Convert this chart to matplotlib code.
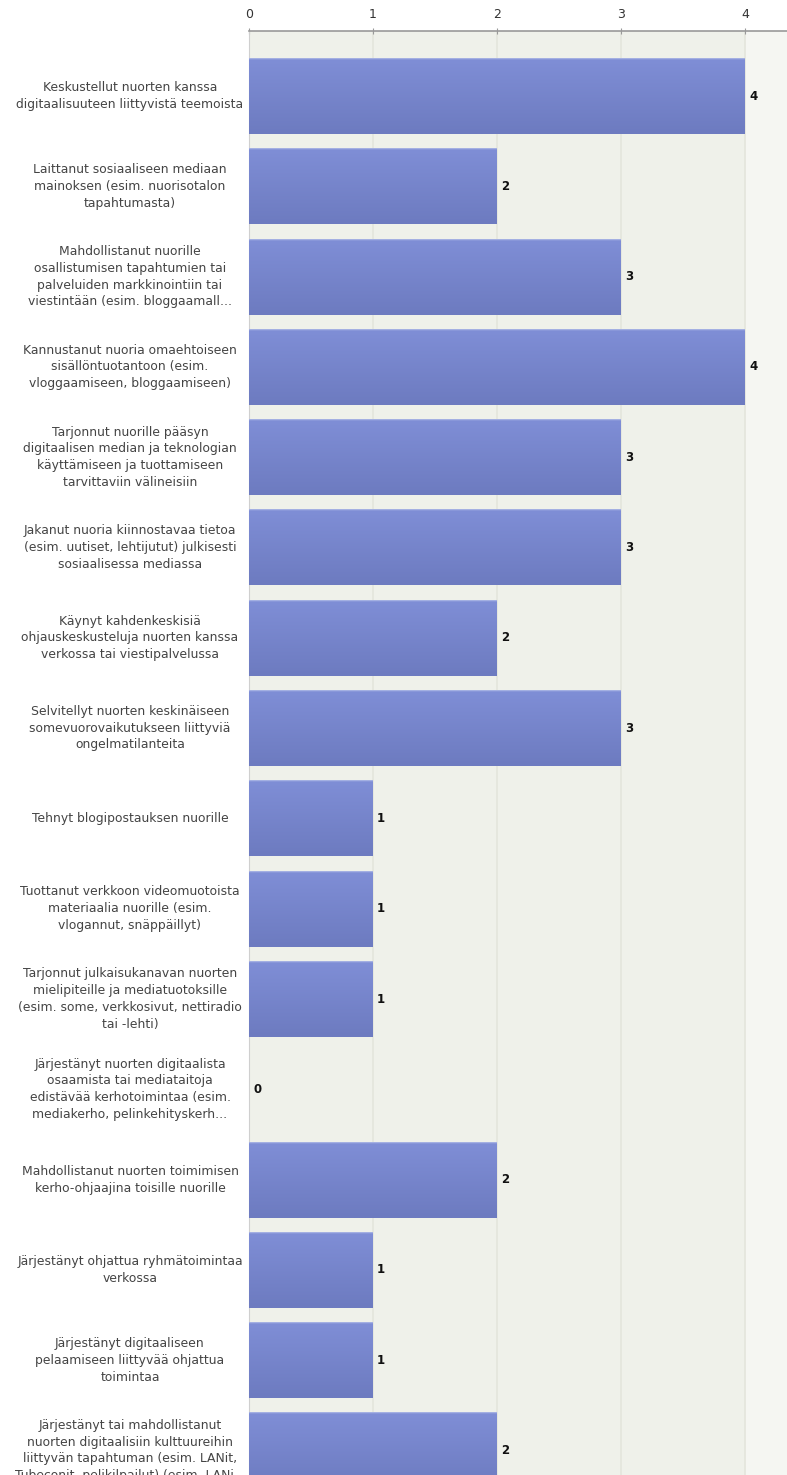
import matplotlib.pyplot as plt
import matplotlib.transforms as mtransforms
from matplotlib.colors import LinearSegmentedColormap
import numpy as np

# survey answers, top to bottom
labels = [
    "Keskustellut nuorten kanssa\ndigitaalisuuteen liittyvistä teemoista",
    "Laittanut sosiaaliseen mediaan\nmainoksen (esim. nuorisotalon\ntapahtumasta)",
    "Mahdollistanut nuorille\nosallistumisen tapahtumien tai\npalveluiden markkinointiin tai\nviestintään (esim. bloggaamall...",
    "Kannustanut nuoria omaehtoiseen\nsisällöntuotantoon (esim.\nvloggaamiseen, bloggaamiseen)",
    "Tarjonnut nuorille pääsyn\ndigitaalisen median ja teknologian\nkäyttämiseen ja tuottamiseen\ntarvittaviin välineisiin",
    "Jakanut nuoria kiinnostavaa tietoa\n(esim. uutiset, lehtijutut) julkisesti\nsosiaalisessa mediassa",
    "Käynyt kahdenkeskisiä\nohjauskeskusteluja nuorten kanssa\nverkossa tai viestipalvelussa",
    "Selvitellyt nuorten keskinäiseen\nsomevuorovaikutukseen liittyviä\nongelmatilanteita",
    "Tehnyt blogipostauksen nuorille",
    "Tuottanut verkkoon videomuotoista\nmateriaalia nuorille (esim.\nvlogannut, snäppäillyt)",
    "Tarjonnut julkaisukanavan nuorten\nmielipiteille ja mediatuotoksille\n(esim. some, verkkosivut, nettiradio\ntai -lehti)",
    "Järjestänyt nuorten digitaalista\nosaamista tai mediataitoja\nedistävää kerhotoimintaa (esim.\nmediakerho, pelinkehityskerh...",
    "Mahdollistanut nuorten toimimisen\nkerho-ohjaajina toisille nuorille",
    "Järjestänyt ohjattua ryhmätoimintaa\nverkossa",
    "Järjestänyt digitaaliseen\npelaamiseen liittyvää ohjattua\ntoimintaa",
    "Järjestänyt tai mahdollistanut\nnuorten digitaalisiin kulttuureihin\nliittyvän tapahtuman (esim. LANit,\nTubeconit, pelikilpailut) (esim. LANi...",
]
counts = [4, 2, 3, 4, 3, 3, 2, 3, 1, 1, 1, 0, 2, 1, 1, 2]
xticks = [0, 1, 2, 3, 4]

W, H = 787, 1475
fig = plt.figure(figsize=(W / 100, H / 100), dpi=100)

# axes placement in pixels
left_px, top_px = 249, 31
unit_y = 90.3
y_top, y_bot = -0.72, len(labels) - 1 + 0.72
ax_h_px = (y_bot - y_top) * unit_y
ax = fig.add_axes([left_px / W, 1 - (top_px + ax_h_px) / H,
                   1 - left_px / W, ax_h_px / H])
ax.set_facecolor("#eff1ea")

y = np.arange(len(labels))
bar_h = 0.84
bars = ax.barh(y, counts, height=bar_h, color="#7683cc", zorder=2)

# vertical gradient on each bar
cmap = LinearSegmentedColormap.from_list("barg", ["#a4b0e2", "#7f8ed6", "#6d7bc0"])
grad = np.concatenate([np.zeros(1), np.linspace(0.5, 1, 60)]).reshape(-1, 1)
for b in bars:
    if b.get_width() <= 0:
        continue
    y0 = b.get_y()
    ax.imshow(grad, cmap=cmap, vmin=0, vmax=1, aspect="auto", origin="upper",
              extent=(0, b.get_width(), y0 + bar_h, y0), zorder=3,
              interpolation="bilinear")

xmax = (W - left_px) / 124.0
ax.set_xlim(0, xmax)
ax.set_ylim(y_bot, y_top)
ax.axvspan(4, xmax, color="#f5f6f2", zorder=0)
for t in xticks[1:]:
    ax.axvline(t, color="#e3e5dc", lw=1.2, zorder=1)

ax.xaxis.tick_top()
ax.set_xticks(xticks)
ax.tick_params(axis="x", colors="#999999", labelcolor="#333333", labelsize=9,
               direction="inout", length=5, pad=5)
ax.set_yticks([])
for s in ["right", "bottom"]:
    ax.spines[s].set_visible(False)
ax.spines["top"].set_color("#999999")
ax.spines["top"].set_linewidth(1.2)
ax.spines["left"].set_color("#cfcfcf")

# value labels
for yi, c in zip(y, counts):
    ax.annotate(str(c), (c, yi), xytext=(3, 0), textcoords="offset points",
                ha="left", va="center", fontsize=8.5, fontweight="bold",
                color="#111111", zorder=4)

# category labels, centred in the left margin
trans = mtransforms.blended_transform_factory(fig.transFigure, ax.transData)
for yi, lab in zip(y, labels):
    fig.text(130 / W, yi, lab, transform=trans, ha="center", va="center",
             multialignment="center", fontsize=8.9, color="#444444",
             linespacing=1.38)

fig.savefig("out.png", dpi=100)
